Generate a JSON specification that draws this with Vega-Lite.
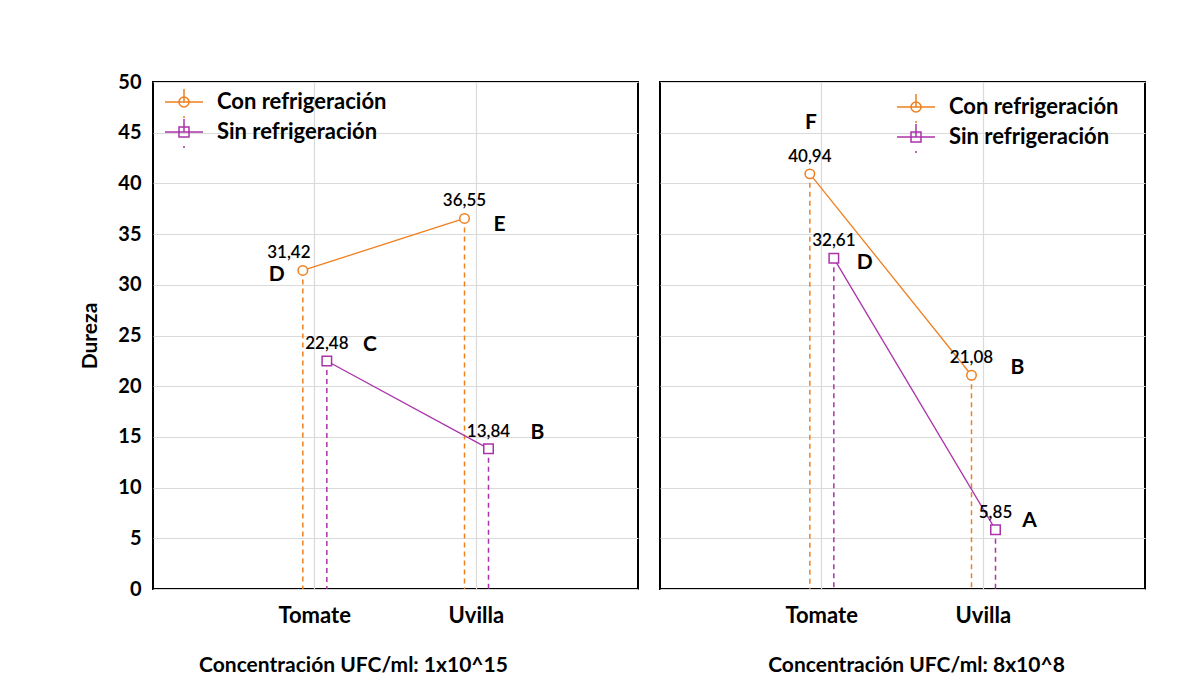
{
  "$schema": "https://vega.github.io/schema/vega-lite/v6.json",
  "background": "white",
  "padding": {"left": 78, "top": 71, "right": 5, "bottom": 5},
  "datasets": {
    "d": [
      {"conc": "1x10^15", "fruta": "Tomate", "serie": "Con refrigeración", "dureza": 31.42, "letra": "D"},
      {"conc": "1x10^15", "fruta": "Uvilla", "serie": "Con refrigeración", "dureza": 36.55, "letra": "E"},
      {"conc": "1x10^15", "fruta": "Tomate", "serie": "Sin refrigeración", "dureza": 22.48, "letra": "C"},
      {"conc": "1x10^15", "fruta": "Uvilla", "serie": "Sin refrigeración", "dureza": 13.84, "letra": "B"},
      {"conc": "8x10^8", "fruta": "Tomate", "serie": "Con refrigeración", "dureza": 40.94, "letra": "F"},
      {"conc": "8x10^8", "fruta": "Uvilla", "serie": "Con refrigeración", "dureza": 21.08, "letra": "B"},
      {"conc": "8x10^8", "fruta": "Tomate", "serie": "Sin refrigeración", "dureza": 32.61, "letra": "D"},
      {"conc": "8x10^8", "fruta": "Uvilla", "serie": "Sin refrigeración", "dureza": 5.85, "letra": "A"}
    ]
  },
  "spacing": 20,
  "resolve": {"legend": {"color": "independent"}},
  "hconcat": [
    {
      "width": 485,
      "height": 507,
      "data": {"name": "d"},
      "transform": [{"filter": "datum.conc == '1x10^15'"}],
      "encoding": {
        "x": {
          "field": "fruta", "type": "nominal", "sort": ["Tomate", "Uvilla"],
          "scale": {"type": "band", "paddingInner": 0, "paddingOuter": 0.5},
          "axis": {"title": "Concentración UFC/ml: 1x10^15", "titleX": 200, "labelAngle": 0, "labelFontSize": 22, "labelPadding": 16, "titleFontSize": 21, "titlePadding": 28, "ticks": false, "grid": true}
        },
        "xOffset": {
          "field": "serie", "type": "nominal", "sort": ["Con refrigeración", "Sin refrigeración"],
          "scale": {"type": "point", "range": [69, 93], "padding": 0}
        },
        "y": {
          "field": "dureza", "type": "quantitative",
          "scale": {"domain": [0, 50], "nice": false},
          "axis": {"title": "Dureza", "values": [0, 5, 10, 15, 20, 25, 30, 35, 40, 45, 50], "labelFontSize": 20, "labelPadding": 12, "ticks": false, "titleFontSize": 21, "titlePadding": 17, "grid": true}
        },
        "color": {
          "field": "serie", "type": "nominal",
          "scale": {"domain": ["Con refrigeración", "Sin refrigeración"], "range": ["#F07F1E", "#AA33AA"]},
          "legend": {
            "title": null, "orient": "none", "legendX": 20, "legendY": 9, "padding": 0,
            "labelFontSize": 22, "labelFontWeight": "bold", "labelColor": "black", "labelOffset": 22, "labelLimit": 400,
            "rowPadding": -9, "symbolSize": 400, "symbolStrokeWidth": 1.5,
            "encode": {"symbols": {"update": {
              "fill": {"value": "transparent"},
              "shape": {"signal": "datum.value == 'Con refrigeración' ? 'M-1.9,0L1.9,0M0,-1.3L0,0M0.5,0A0.5,0.5 0 1,1 -0.5,0A0.5,0.5 0 1,1 0.5,0M0,1.4L0,1.6' : 'M-1.9,0L1.9,0M0,-1.3L0,0M-0.5,-0.5L0.5,-0.5L0.5,0.5L-0.5,0.5ZM0,1.4L0,1.6'"}
            }}}
          }
        }
      },
      "layer": [
        {"mark": {"type": "rule", "strokeDash": [5, 4], "strokeWidth": 1.5}, "encoding": {"y2": {"datum": 0}}},
        {"mark": {"type": "line", "strokeWidth": 1.3}, "encoding": {}},
        {"mark": {"type": "point", "filled": false, "strokeWidth": 1.5, "size": 90, "fill": "white", "fillOpacity": 1},
         "encoding": {"shape": {"field": "serie", "type": "nominal", "scale": {"domain": ["Con refrigeración", "Sin refrigeración"], "range": ["circle", "square"]}, "legend": null}}},
        {"transform": [{"filter": "!(datum.serie == 'Con refrigeración' && datum.fruta == 'Tomate')"}],
         "mark": {"type": "text", "dy": -17, "fontSize": 17, "fontWeight": 600, "color": "black"},
         "encoding": {"text": {"field": "dureza", "type": "quantitative", "format": ".2f"}, "color": {"value": "black"}}},
        {"transform": [{"filter": "datum.serie == 'Con refrigeración' && datum.fruta == 'Tomate'"}],
         "mark": {"type": "text", "dx": -14, "dy": -17, "fontSize": 17, "fontWeight": 600, "color": "black"},
         "encoding": {"text": {"field": "dureza", "type": "quantitative", "format": ".2f"}, "color": {"value": "black"}}},
        {"transform": [{"filter": "datum.serie == 'Con refrigeración' && datum.fruta == 'Tomate'"}],
         "mark": {"type": "text", "dx": -26, "dy": 5, "fontSize": 21, "fontWeight": "bold"},
         "encoding": {"text": {"field": "letra"}, "color": {"value": "black"}}},
        {"transform": [{"filter": "datum.serie == 'Con refrigeración' && datum.fruta == 'Uvilla'"}],
         "mark": {"type": "text", "dx": 35, "dy": 7, "fontSize": 21, "fontWeight": "bold"},
         "encoding": {"text": {"field": "letra"}, "color": {"value": "black"}}},
        {"transform": [{"filter": "datum.serie == 'Sin refrigeración' && datum.fruta == 'Tomate'"}],
         "mark": {"type": "text", "dx": 43, "dy": -16, "fontSize": 21, "fontWeight": "bold"},
         "encoding": {"text": {"field": "letra"}, "color": {"value": "black"}}},
        {"transform": [{"filter": "datum.serie == 'Sin refrigeración' && datum.fruta == 'Uvilla'"}],
         "mark": {"type": "text", "dx": 49, "dy": -16, "fontSize": 21, "fontWeight": "bold"},
         "encoding": {"text": {"field": "letra"}, "color": {"value": "black"}}}
      ]
    },
    {
      "width": 485,
      "height": 507,
      "data": {"name": "d"},
      "transform": [{"filter": "datum.conc == '8x10^8'"}],
      "encoding": {
        "x": {
          "field": "fruta", "type": "nominal", "sort": ["Tomate", "Uvilla"],
          "scale": {"type": "band", "paddingInner": 0, "paddingOuter": 0.5},
          "axis": {"title": "Concentración UFC/ml: 8x10^8", "titleX": 256, "labelAngle": 0, "labelFontSize": 22, "labelPadding": 16, "titleFontSize": 21, "titlePadding": 28, "ticks": false, "grid": true}
        },
        "xOffset": {
          "field": "serie", "type": "nominal", "sort": ["Con refrigeración", "Sin refrigeración"],
          "scale": {"type": "point", "range": [69, 93], "padding": 0}
        },
        "y": {
          "field": "dureza", "type": "quantitative",
          "scale": {"domain": [0, 50], "nice": false},
          "axis": {"title": null, "values": [0, 5, 10, 15, 20, 25, 30, 35, 40, 45, 50], "labels": false, "ticks": false, "grid": true}
        },
        "color": {
          "field": "serie", "type": "nominal",
          "scale": {"domain": ["Con refrigeración", "Sin refrigeración"], "range": ["#F07F1E", "#AA33AA"]},
          "legend": {
            "title": null, "orient": "none", "legendX": 245, "legendY": 14, "padding": 0,
            "labelFontSize": 22, "labelFontWeight": "bold", "labelColor": "black", "labelOffset": 22, "labelLimit": 400,
            "rowPadding": -9, "symbolSize": 400, "symbolStrokeWidth": 1.5,
            "encode": {"symbols": {"update": {
              "fill": {"value": "transparent"},
              "shape": {"signal": "datum.value == 'Con refrigeración' ? 'M-1.9,0L1.9,0M0,-1.3L0,0M0.5,0A0.5,0.5 0 1,1 -0.5,0A0.5,0.5 0 1,1 0.5,0M0,1.4L0,1.6' : 'M-1.9,0L1.9,0M0,-1.3L0,0M-0.5,-0.5L0.5,-0.5L0.5,0.5L-0.5,0.5ZM0,1.4L0,1.6'"}
            }}}
          }
        }
      },
      "layer": [
        {"mark": {"type": "rule", "strokeDash": [5, 4], "strokeWidth": 1.5}, "encoding": {"y2": {"datum": 0}}},
        {"mark": {"type": "line", "strokeWidth": 1.3}, "encoding": {}},
        {"mark": {"type": "point", "filled": false, "strokeWidth": 1.5, "size": 90, "fill": "white", "fillOpacity": 1},
         "encoding": {"shape": {"field": "serie", "type": "nominal", "scale": {"domain": ["Con refrigeración", "Sin refrigeración"], "range": ["circle", "square"]}, "legend": null}}},
        {"mark": {"type": "text", "dy": -17, "fontSize": 17, "fontWeight": 600, "color": "black"},
         "encoding": {"text": {"field": "dureza", "type": "quantitative", "format": ".2f"}, "color": {"value": "black"}}},
        {"transform": [{"filter": "datum.serie == 'Con refrigeración' && datum.fruta == 'Tomate'"}],
         "mark": {"type": "text", "dx": 1, "dy": -51, "fontSize": 21, "fontWeight": "bold"},
         "encoding": {"text": {"field": "letra"}, "color": {"value": "black"}}},
        {"transform": [{"filter": "datum.serie == 'Sin refrigeración' && datum.fruta == 'Tomate'"}],
         "mark": {"type": "text", "dx": 31, "dy": 5, "fontSize": 21, "fontWeight": "bold"},
         "encoding": {"text": {"field": "letra"}, "color": {"value": "black"}}},
        {"transform": [{"filter": "datum.serie == 'Con refrigeración' && datum.fruta == 'Uvilla'"}],
         "mark": {"type": "text", "dx": 46, "dy": -7, "fontSize": 21, "fontWeight": "bold"},
         "encoding": {"text": {"field": "letra"}, "color": {"value": "black"}}},
        {"transform": [{"filter": "datum.serie == 'Sin refrigeración' && datum.fruta == 'Uvilla'"}],
         "mark": {"type": "text", "dx": 34, "dy": -9, "fontSize": 21, "fontWeight": "bold"},
         "encoding": {"text": {"field": "letra"}, "color": {"value": "black"}}}
      ]
    }
  ],
  "config": {
    "font": "Lato",
    "locale": {"number": {"decimal": ",", "thousands": ".", "grouping": [3], "currency": ["", " €"]}},
    "view": {"stroke": "black", "strokeWidth": 2},
    "axis": {"labelFont": "Lato", "labelFontWeight": "bold", "labelColor": "black", "titleFont": "Lato", "titleFontWeight": "bold", "titleColor": "black", "gridColor": "#dadada", "gridWidth": 1.2, "domain": false},
    "legend": {"labelFont": "Lato"},
    "text": {"font": "Lato"}
  }
}
